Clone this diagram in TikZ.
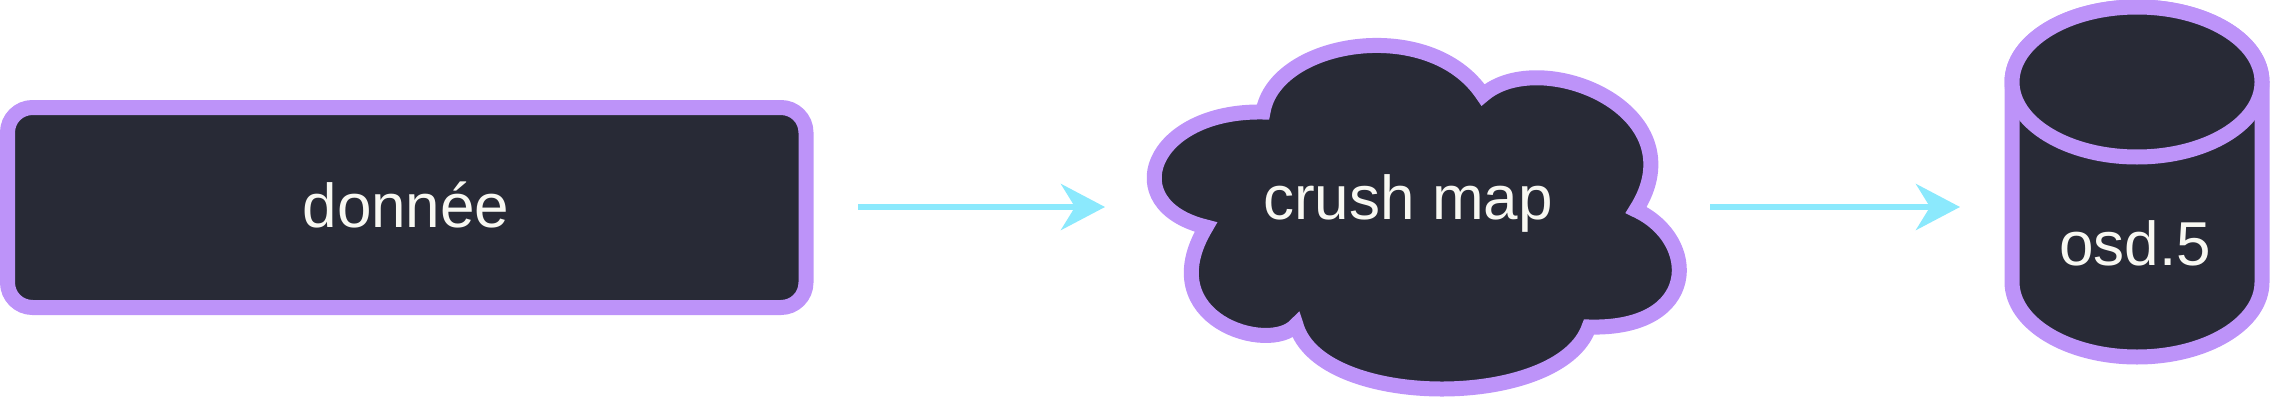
\documentclass[tikz,border=0pt]{standalone}
\usepackage{fontspec}
\setmainfont{Liberation Sans}
\usetikzlibrary{arrows.meta}
\definecolor{pur}{HTML}{BD93F9}
\definecolor{bg}{HTML}{282A36}
\definecolor{fg}{HTML}{F8F8F2}
\definecolor{cy}{HTML}{8BE9FD}
\begin{document}
\begin{tikzpicture}[x=1pt,y=-1pt,
  shp/.style={draw=pur,line width=15pt,fill=bg},
  lbl/.style={text=fg,font=\fontsize{62}{62}\selectfont,inner sep=0pt},
  conn/.style={draw=cy,line width=6pt,-{Stealth[length=44pt,width=46pt,inset=14pt]}}]
\useasboundingbox (0,0) rectangle (2270,415);
% donnee
\draw[shp,rounded corners=25pt] (7.5,107.5) rectangle (806,307.5);
\node[lbl] (d) at (406,205) {donnée};
\coordinate (dR) at (858,207);
% cloud
\draw[shp] (1263,112) .. controls (1275,40) and (1430,15) .. (1483,95)
  .. controls (1540,45) and (1700,110) .. (1636,210)
  .. controls (1700,240) and (1700,330) .. (1589,327)
  .. controls (1560,410) and (1320,410) .. (1296,325)
  .. controls (1270,355) and (1150,320) .. (1206,227)
  .. controls (1115,205) and (1150,110) .. cycle;
\node[lbl] (c) at (1408,203) {crush map};
\coordinate (cL) at (1105,207);
\coordinate (cR) at (1710,207);
% cylinder
\draw[shp] (2012,82) -- (2012,282) arc[start angle=180,end angle=360,x radius=125,y radius=-75] -- (2262,82) arc[start angle=0,end angle=180,x radius=125,y radius=-75] -- cycle;
\draw[shp] (2137,82) ellipse[x radius=125,y radius=75];
\node[lbl] (o) at (2135,243) {osd.5};
\coordinate (oL) at (1960,207);
\draw[conn] (dR) -- (cL);
\draw[conn] (cR) -- (oL);
\end{tikzpicture}
\end{document}
